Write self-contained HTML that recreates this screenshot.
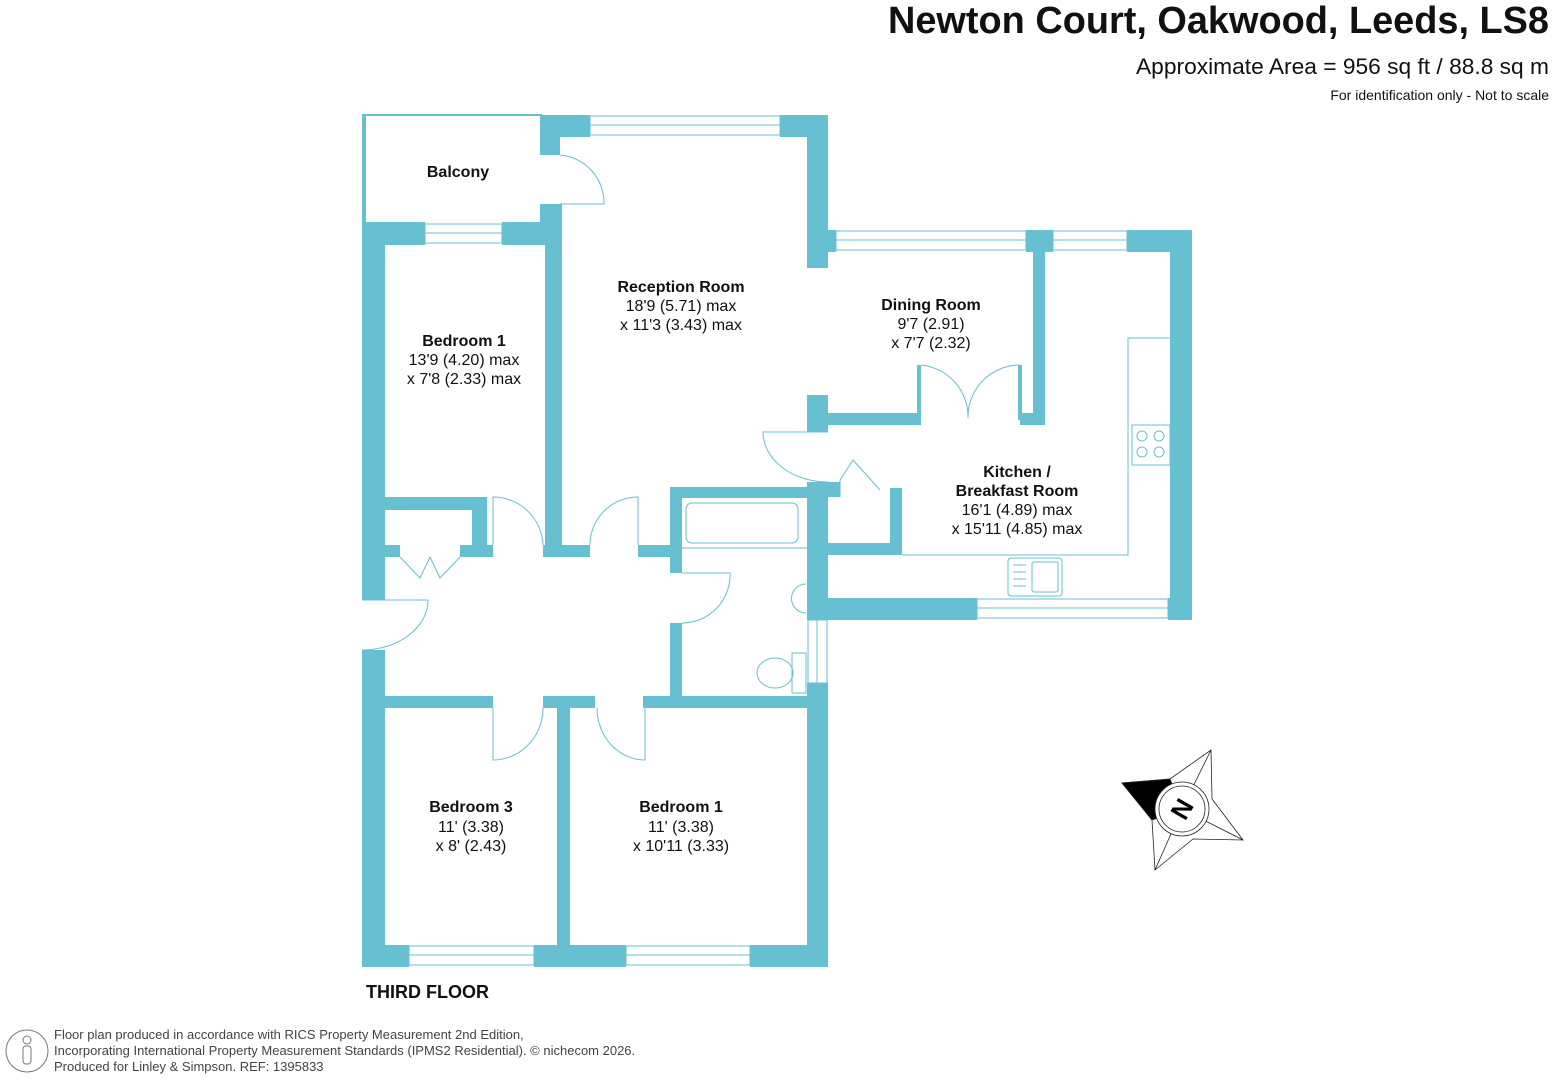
<!DOCTYPE html>
<html><head><meta charset="utf-8"><style>
html,body{margin:0;padding:0;background:#fff;}
svg{display:block;}
text{font-family:"Liberation Sans",Arial,sans-serif;fill:#111;}
</style></head><body>
<svg width="1554" height="1080" viewBox="0 0 1554 1080" xmlns="http://www.w3.org/2000/svg">
<rect width="1554" height="1080" fill="#fff"/>
<g fill="#67bfd2">
<rect x="362" y="115" width="4" height="107"/>
<rect x="362" y="114" width="180" height="2"/>
<rect x="362" y="222" width="63" height="23"/>
<rect x="502" y="222" width="58" height="23"/>
<rect x="540" y="115" width="50" height="22"/>
<rect x="780" y="115" width="48" height="22"/>
<rect x="540" y="115" width="20" height="40"/>
<rect x="540" y="204" width="22" height="18"/>
<rect x="545" y="222" width="17" height="335"/>
<rect x="807" y="115" width="21" height="153"/>
<rect x="807" y="230" width="29" height="22"/>
<rect x="1026" y="230" width="27" height="22"/>
<rect x="1127" y="230" width="65" height="22"/>
<rect x="1170" y="230" width="22" height="390"/>
<rect x="1033" y="230" width="12" height="195"/>
<rect x="1020" y="413" width="25" height="12"/>
<rect x="807" y="395" width="21" height="37"/>
<rect x="828" y="413" width="93" height="12"/>
<rect x="917" y="365" width="4" height="60"/>
<rect x="1018" y="365" width="4" height="55"/>
<rect x="807" y="482" width="21" height="138"/>
<rect x="828" y="598" width="149" height="22"/>
<rect x="1168" y="598" width="24" height="22"/>
<rect x="828" y="482" width="12" height="15"/>
<rect x="890" y="488" width="12" height="67"/>
<rect x="828" y="543" width="74" height="12"/>
<rect x="807" y="683" width="21" height="284"/>
<rect x="362" y="222" width="23" height="378"/>
<rect x="362" y="650" width="23" height="317"/>
<rect x="362" y="945" width="47" height="22"/>
<rect x="534" y="945" width="92" height="22"/>
<rect x="750" y="945" width="78" height="22"/>
<rect x="385" y="497" width="102" height="13"/>
<rect x="472" y="497" width="15" height="60"/>
<rect x="385" y="545" width="15" height="12"/>
<rect x="460" y="545" width="33" height="12"/>
<rect x="543" y="545" width="47" height="12"/>
<rect x="638" y="545" width="44" height="12"/>
<rect x="670" y="487" width="158" height="11"/>
<rect x="670" y="487" width="12" height="86"/>
<rect x="670" y="623" width="12" height="74"/>
<rect x="385" y="696" width="108" height="12"/>
<rect x="543" y="696" width="52" height="12"/>
<rect x="643" y="696" width="164" height="12"/>
<rect x="557" y="696" width="13" height="271"/>
</g>
<g fill="none" stroke="#67bfd2" stroke-width="1">
<rect x="425" y="224" width="77" height="19"/><line x1="425" y1="233" x2="502" y2="233"/>
<rect x="590" y="116" width="190" height="19"/><line x1="590" y1="125" x2="780" y2="125"/>
<rect x="836" y="231" width="190" height="19"/><line x1="836" y1="240" x2="1026" y2="240"/>
<rect x="1053" y="231" width="74" height="19"/><line x1="1053" y1="240" x2="1127" y2="240"/>
<rect x="977" y="599" width="191" height="19"/><line x1="977" y1="608" x2="1168" y2="608"/>
<rect x="409" y="946" width="125" height="19"/><line x1="409" y1="955" x2="534" y2="955"/>
<rect x="626" y="946" width="124" height="19"/><line x1="626" y1="955" x2="750" y2="955"/>
<rect x="808" y="620" width="19" height="63"/><line x1="817" y1="620" x2="817" y2="683"/>
<path d="M560 155 A48 48 0 0 1 604 204 L560 204"/>
<path d="M921 365 A52 52 0 0 1 968 418"/>
<path d="M1020 365 A52 52 0 0 0 968 418"/>
<path d="M828 432 L763 432 A65 50 0 0 0 828 482"/>
<path d="M840 497 L840 480 L853 460 L880 490"/>
<path d="M493 545 L493 497 A50 50 0 0 1 543 545"/>
<path d="M590 545 A48 48 0 0 1 638 497 L638 545"/>
<path d="M682 573 L730 573 A48 48 0 0 1 682 623"/>
<path d="M362 600 L428 600 A66 50 0 0 1 362 650"/>
<path d="M493 708 L493 760 A50 52 0 0 0 543 708"/>
<path d="M597 708 A48 52 0 0 0 645 760 L645 708"/>
<path d="M400 557 L420 578 L430 557 M460 557 L440 578 L430 557"/>
<path d="M1170 338 L1128 338 L1128 555 L902 555"/>
<rect x="1132" y="425" width="38" height="40"/>
<circle cx="1142" cy="436" r="5"/><circle cx="1159" cy="436" r="5"/>
<circle cx="1142" cy="452" r="5"/><circle cx="1159" cy="452" r="5"/>
<rect x="1008" y="558" width="54" height="38" rx="3"/>
<rect x="1032" y="562" width="26" height="30" rx="2"/>
<line x1="1013" y1="565" x2="1026" y2="565"/><line x1="1013" y1="572" x2="1026" y2="572"/>
<line x1="1013" y1="579" x2="1026" y2="579"/><line x1="1013" y1="586" x2="1026" y2="586"/>
<line x1="682" y1="548" x2="807" y2="548"/>
<rect x="686" y="503" width="112" height="40" rx="6"/>
<path d="M806 584 A14 14 0 0 0 806 613"/>
<rect x="792" y="653" width="14" height="40"/>
<ellipse cx="775" cy="673" rx="18" ry="15"/>
</g>
<g text-anchor="middle" font-size="16">
<text x="458" y="177" font-weight="bold">Balcony</text>
<text x="681" y="292" font-weight="bold">Reception Room</text>
<text x="681" y="311">18'9 (5.71) max</text>
<text x="681" y="330">x 11'3 (3.43) max</text>
<text x="464" y="346" font-weight="bold">Bedroom 1</text>
<text x="464" y="365">13'9 (4.20) max</text>
<text x="464" y="384">x 7'8 (2.33) max</text>
<text x="931" y="310" font-weight="bold">Dining Room</text>
<text x="931" y="329">9'7 (2.91)</text>
<text x="931" y="348">x 7'7 (2.32)</text>
<text x="1017" y="477" font-weight="bold">Kitchen /</text>
<text x="1017" y="496" font-weight="bold">Breakfast Room</text>
<text x="1017" y="515">16'1 (4.89) max</text>
<text x="1017" y="534">x 15'11 (4.85) max</text>
<text x="471" y="812" font-weight="bold">Bedroom 3</text>
<text x="471" y="832">11' (3.38)</text>
<text x="471" y="851">x 8' (2.43)</text>
<text x="681" y="812" font-weight="bold">Bedroom 1</text>
<text x="681" y="832">11' (3.38)</text>
<text x="681" y="851">x 10'11 (3.33)</text>
</g>
<text x="366" y="998" font-size="18" font-weight="bold">THIRD FLOOR</text>
<g text-anchor="end">
<text x="1549" y="33" font-size="38" font-weight="bold" textLength="661" lengthAdjust="spacingAndGlyphs">Newton Court, Oakwood, Leeds, LS8</text>
<text x="1549" y="74" font-size="22" textLength="413" lengthAdjust="spacingAndGlyphs">Approximate Area = 956 sq ft / 88.8 sq m</text>
<text x="1549" y="100" font-size="14">For identification only - Not to scale</text>
</g>
<g stroke="#222" stroke-width="0.8" fill="#fff">
<polygon points="1211,750 1212,799 1243,840 1193,839 1155,870 1152,820 1122,783 1170,779"/>
<polygon points="1122,783 1170,779 1182,809 1152,820" fill="#000"/>
<line x1="1182" y1="809" x2="1211" y2="750"/>
<line x1="1182" y1="809" x2="1243" y2="840"/>
<line x1="1182" y1="809" x2="1155" y2="870"/>
<circle cx="1182" cy="809" r="27"/>
<circle cx="1182" cy="809" r="23"/>
</g>
<text x="1182" y="818" font-size="26" font-weight="bold" text-anchor="middle" transform="rotate(-60 1182 809)" style="fill:#000">N</text>
<g fill="none" stroke="#777" stroke-width="1">
<circle cx="27" cy="1051" r="21"/>
<circle cx="27" cy="1040" r="4"/>
<rect x="23" y="1046" width="8" height="18" rx="3"/>
</g>
<g font-size="13">
<text x="54" y="1039" style="fill:#444">Floor plan produced in accordance with RICS Property Measurement 2nd Edition,</text>
<text x="54" y="1055" style="fill:#444">Incorporating International Property Measurement Standards (IPMS2 Residential).   © nichecom 2026.</text>
<text x="54" y="1071" style="fill:#444">Produced for Linley &amp; Simpson.   REF: 1395833</text>
</g>
</svg>
</body></html>
